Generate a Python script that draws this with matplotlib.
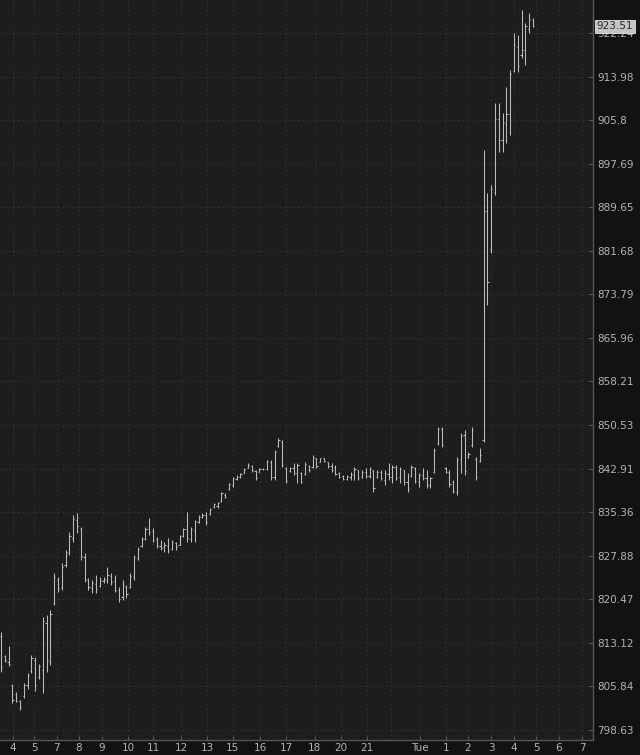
import matplotlib

matplotlib.use("Agg")

import matplotlib.pyplot as plt
import matplotlib.transforms as mtransforms
import numpy as np
from matplotlib.ticker import FixedLocator, NullLocator, NullFormatter

# OHLC bars (oldest -> newest)
opens = [
    814.2, 810.9, 810.0, 806.0, 804.6, 803.4, 804.2, 806.0, 808.4, 810.2,
    807.4, 808.6, 816.5, 810.0, 819.8, 823.8, 822.6, 826.3, 828.4, 831.0,
    834.0, 832.5, 827.6, 823.8, 822.4, 823.0, 822.8, 823.6, 823.8, 824.4,
    823.5, 822.0, 820.8, 822.6, 822.6, 824.2, 827.5, 829.6, 830.8, 832.4,
    832.2, 830.7, 829.5, 829.4, 829.6, 829.0, 830.0, 829.8, 831.3, 832.4,
    830.8, 832.2, 833.7, 834.6, 834.9, 835.0, 836.2, 836.5, 837.3, 838.4,
    839.4, 840.1, 841.1, 841.5, 842.2, 843.1, 843.4, 842.5, 842.4, 842.8,
    842.9, 844.0, 841.4, 846.9, 847.6, 843.0, 842.5, 843.0, 842.2, 842.1,
    842.0, 843.4, 843.2, 844.7, 844.1, 844.7, 844.0, 843.4, 843.2, 842.1,
    841.6, 841.1, 841.5, 841.8, 842.6, 841.4, 842.4, 841.6, 842.6, 841.4,
    842.4, 841.0, 842.0, 841.4, 843.2, 841.4, 842.6, 840.6, 841.6, 843.0,
    840.6, 841.8, 841.2, 840.0, 842.3, 847.3, 849.8, 843.0, 842.4, 840.5,
    838.8, 844.5, 848.8, 845.0, 847.0, 844.6, 844.3, 847.9, 889.0, 882.0,
    892.5, 906.0, 902.0, 905.0, 907.0, 915.0, 919.5, 918.0, 919.0, 923.0,
    924.8,
]
highs = [
    814.95, 811.09, 812.60, 806.24, 804.91, 803.58, 806.41, 808.07, 811.09, 810.75,
    809.57, 817.47, 817.81, 818.66, 824.92, 824.26, 826.65, 828.87, 831.95, 834.88,
    835.22, 832.81, 828.36, 824.09, 823.74, 824.60, 824.26, 824.26, 825.97, 824.94,
    824.60, 822.56, 823.74, 822.89, 824.94, 828.02, 829.38, 831.08, 832.81, 834.36,
    832.64, 831.08, 830.57, 830.22, 830.91, 830.57, 830.22, 831.43, 832.64, 835.39,
    832.81, 834.01, 834.88, 835.22, 835.39, 836.08, 836.94, 837.11, 838.86, 838.68,
    840.42, 841.47, 841.81, 842.16, 843.03, 843.90, 843.55, 842.68, 843.03, 843.03,
    844.42, 844.42, 846.16, 848.27, 847.92, 843.21, 843.21, 843.90, 843.90, 842.34,
    844.08, 843.55, 845.29, 844.77, 844.77, 844.77, 844.08, 843.90, 843.55, 842.34,
    841.81, 841.81, 842.34, 843.21, 842.68, 842.68, 843.03, 843.21, 842.68, 842.68,
    842.68, 842.68, 843.90, 843.55, 843.55, 843.21, 842.68, 842.16, 843.55, 843.21,
    842.16, 843.03, 842.68, 841.47, 846.51, 850.20, 850.20, 843.21, 842.68, 840.94,
    844.95, 849.14, 849.67, 845.81, 850.20, 844.95, 846.51, 900.23, 892.28, 893.74,
    909.02, 909.02, 907.15, 912.02, 915.23, 922.24, 921.86, 926.62, 924.14, 926.05,
    925.09,
]
lows = [
    808.23, 809.90, 809.23, 803.08, 803.25, 801.93, 803.91, 805.41, 808.07, 805.08,
    807.07, 804.74, 808.23, 809.41, 819.50, 821.71, 822.05, 825.97, 828.02, 830.22,
    831.77, 827.16, 823.40, 822.05, 821.54, 821.54, 822.56, 823.23, 823.23, 822.89,
    821.71, 820.01, 820.35, 820.69, 822.39, 823.74, 827.16, 829.38, 830.57, 831.43,
    830.22, 829.21, 828.87, 828.53, 828.36, 828.87, 828.87, 829.72, 831.08, 830.22,
    830.22, 830.22, 833.50, 834.36, 833.15, 834.88, 836.08, 836.08, 837.11, 837.81,
    839.20, 839.73, 840.94, 841.29, 842.16, 843.03, 842.34, 840.94, 842.34, 842.68,
    842.68, 840.94, 840.94, 846.69, 843.21, 840.42, 842.34, 841.81, 840.42, 840.42,
    841.81, 842.34, 843.03, 843.03, 844.08, 844.08, 843.03, 842.34, 841.81, 841.29,
    840.94, 840.94, 840.94, 840.94, 840.94, 841.29, 841.29, 841.29, 838.86, 841.29,
    840.94, 840.07, 840.94, 840.42, 840.94, 840.42, 840.07, 838.86, 841.47, 840.42,
    839.73, 840.94, 839.55, 839.55, 842.16, 847.04, 846.69, 842.16, 839.73, 838.68,
    838.33, 842.16, 841.81, 844.77, 846.69, 840.94, 844.08, 847.56, 871.88, 881.30,
    891.91, 899.86, 899.86, 901.54, 903.03, 914.85, 914.85, 917.48, 916.17, 922.24,
    923.38,
]
closes = [
    809.0, 810.2, 809.6, 803.6, 803.5, 802.4, 806.0, 807.8, 810.6, 806.0,
    809.2, 816.8, 810.2, 818.0, 824.3, 822.4, 826.0, 828.5, 831.2, 834.2,
    833.0, 827.8, 824.0, 822.6, 823.2, 822.2, 823.8, 823.9, 824.6, 823.4,
    822.0, 820.6, 822.9, 821.3, 824.5, 827.6, 829.0, 830.8, 832.4, 832.0,
    830.6, 829.6, 829.2, 829.8, 828.9, 830.2, 829.4, 831.2, 832.4, 831.0,
    832.4, 833.8, 834.6, 834.8, 833.6, 835.9, 836.7, 836.9, 838.6, 838.0,
    840.2, 841.2, 841.5, 842.0, 842.8, 843.6, 842.6, 841.3, 842.8, 842.9,
    844.2, 841.5, 845.8, 847.9, 843.5, 840.8, 843.0, 842.2, 843.5, 840.6,
    843.8, 842.6, 845.0, 843.4, 844.7, 844.2, 843.3, 842.6, 842.0, 841.5,
    841.1, 841.6, 842.0, 842.9, 841.2, 842.4, 841.6, 843.0, 839.5, 842.4,
    841.2, 842.2, 841.4, 843.2, 841.3, 842.8, 840.6, 839.4, 843.2, 840.8,
    841.8, 841.2, 840.0, 841.2, 846.2, 849.8, 847.0, 842.4, 840.2, 839.0,
    844.4, 848.6, 842.5, 845.4, 849.6, 841.4, 845.2, 889.0, 876.0, 893.0,
    906.0, 902.0, 905.5, 907.0, 914.5, 920.0, 916.0, 919.0, 923.5, 925.0,
    923.51,
]

# price scale (log) and time scale labels
price_ticks = [798.63, 805.84, 813.12, 820.47, 827.88, 835.36, 842.91, 850.53, 858.21,
               865.96, 873.79, 881.68, 889.65, 897.69, 905.8, 913.98, 922.24]
price_labels = ["798.63", "805.84", "813.12", "820.47", "827.88", "835.36", "842.91",
                "850.53", "858.21", "865.96", "873.79", "881.68", "889.65", "897.69",
                "905.8", "913.98", "922.24"]
hour_labels = ["4", "5", "7", "8", "9", "10", "11", "12", "13", "15", "16", "17", "18",
               "20", "21", "Tue", "1", "2", "3", "4", "5", "6", "7"]
hour_pos = [3.2, 8.7, 14.7, 20.5, 26.6, 33.4, 40.0, 47.4, 54.2, 61.0, 68.2, 75.0, 82.6,
            89.5, 96.3, 110.3, 117.1, 122.9, 129.0, 135.0, 140.8, 146.8, 152.9]
extra_grid = [102.6]
last_price = 923.51

BG = "#1d1d1d"
OUTER = "#121212"
BAR = "#bdbdbd"
GRID = "#3a3a3a"
TXT = "#b4b4b4"

fig = plt.figure(figsize=(6.4, 7.55), dpi=100, facecolor=OUTER)
ax = fig.add_axes([0, 15 / 755, 593 / 640, 740 / 755], facecolor=BG)

x = np.arange(len(highs))
ax.vlines(x, lows, highs, color=BAR, linewidth=0.75)
ax.hlines(opens, x - 0.3, x, color=BAR, linewidth=0.75)
ax.hlines(closes, x, x + 0.3, color=BAR, linewidth=0.75)

ax.set_yscale("log")
ax.set_ylim(796.98, 928.54)
ax.set_xlim(-0.26, 155.8)

# dotted grid
for p in price_ticks:
    ax.axhline(p, color=GRID, linestyle=(0, (1, 3)), linewidth=0.8, zorder=0)
for p in hour_pos + extra_grid:
    ax.axvline(p, color=GRID, linestyle=(0, (1, 3)), linewidth=0.8, zorder=0)

ax.yaxis.tick_right()
ax.yaxis.set_major_locator(FixedLocator(price_ticks))
ax.set_yticklabels(price_labels)
ax.yaxis.set_minor_locator(NullLocator())
ax.yaxis.set_minor_formatter(NullFormatter())
ax.set_xticks(hour_pos)
ax.set_xticklabels(hour_labels)

ax.tick_params(axis="both", colors="#5a5a5a", labelcolor=TXT, labelsize=7.5,
               direction="in", length=3, width=0.8)
ax.tick_params(axis="y", pad=3)
ax.tick_params(axis="x", pad=2)

for side in ["top", "left"]:
    ax.spines[side].set_visible(False)
for side in ["right", "bottom"]:
    ax.spines[side].set_color("#555555")
    ax.spines[side].set_linewidth(1.0)

# last price marker on the price axis (sits over the 922.24 label, as in the source)
trans = mtransforms.blended_transform_factory(ax.transAxes, ax.transData)
ax.text(1.006, last_price, f"{last_price:.2f}", transform=trans, ha="left", va="center",
        fontsize=7.5, color="#2a2a2a", clip_on=False, zorder=5,
        bbox=dict(boxstyle="square,pad=0.15", fc="#c4c4c4", ec="#e6e6e6", lw=0.6))

fig.savefig("out.png", dpi=100, facecolor=fig.get_facecolor())
plt.close(fig)
